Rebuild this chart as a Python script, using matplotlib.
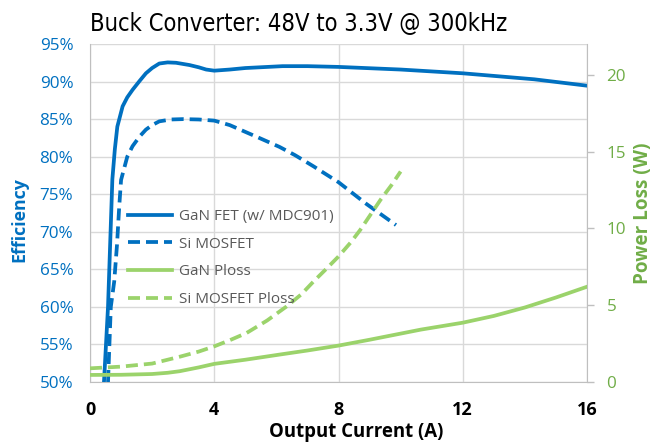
import matplotlib
matplotlib.use("Agg")
import matplotlib.pyplot as plt
from matplotlib.lines import Line2D

# ---- data ----
gan_eff_x = [0.45, 0.58, 0.72, 0.80, 0.88, 1.05, 1.2, 1.37, 1.6, 1.8, 2.0, 2.23, 2.5, 2.77, 3.2, 3.5, 3.74, 4.0, 4.5, 5.0, 6.2, 7.0, 8.0, 10.0, 12.0, 14.3, 16.0]
gan_eff_y = [50.0, 60.0, 77.0, 81.0, 84.0, 86.7, 87.9, 88.9, 90.1, 91.1, 91.8, 92.4, 92.55, 92.5, 92.2, 91.9, 91.6, 91.45, 91.6, 91.8, 92.05, 92.05, 91.95, 91.6, 91.1, 90.3, 89.45]

si_eff_x = [0.58, 0.67, 0.78, 0.87, 0.94, 1.0, 1.2, 1.37, 1.6, 1.8, 2.0, 2.23, 2.6, 3.0, 3.5, 4.0, 4.5, 5.0, 5.5, 6.1, 6.6, 7.2, 8.0, 8.9, 9.85]
si_eff_y = [50.0, 60.0, 63.4, 68.3, 73.3, 76.9, 80.0, 81.4, 82.7, 83.6, 84.2, 84.7, 84.95, 85.0, 84.95, 84.8, 84.2, 83.3, 82.4, 81.3, 80.2, 78.7, 76.6, 73.7, 70.9]

gan_ploss_x = [0.0, 1.0, 2.0, 2.5, 2.88, 3.5, 4.0, 5.0, 6.12, 7.0, 8.0, 9.0, 10.65, 12.0, 13.0, 14.0, 15.0, 16.0]
gan_ploss_y = [0.46, 0.47, 0.52, 0.6, 0.70, 0.95, 1.18, 1.45, 1.79, 2.05, 2.37, 2.75, 3.41, 3.86, 4.3, 4.85, 5.5, 6.2]

si_ploss_x = [0.0, 1.0, 2.0, 2.88, 3.5, 4.0, 4.5, 5.04, 5.7, 6.33, 6.8, 7.2, 7.6, 8.0, 8.4, 8.7, 9.0, 9.35, 9.7, 10.0]
si_ploss_y = [0.89, 1.0, 1.2, 1.64, 1.98, 2.32, 2.72, 3.19, 4.0, 4.92, 5.7, 6.55, 7.35, 8.17, 9.1, 9.9, 10.8, 11.85, 12.8, 13.7]

x_ticks = [0, 4, 8, 12, 16]
eff_ticks = [50, 55, 60, 65, 70, 75, 80, 85, 90, 95]
ploss_ticks = [0, 5, 10, 15, 20]

legend_labels = ["GaN FET (w/ MDC901)", "Si MOSFET", "GaN Ploss", "Si MOSFET Ploss"]
title = "Buck Converter: 48V to 3.3V @ 300kHz"

# ---- style ----
BLUE = "#0070C0"
GREEN = "#9BD36B"
DKGREEN = "#70AD47"
GRID = "#D9D9D9"
LW = 2.7
DASH = (0, (3.2, 1.6))
FONT = "Open Sans"

W, H = 653, 447
fig = plt.figure(figsize=(W / 100, H / 100), dpi=100)
ax = fig.add_axes([90 / W, 1 - 382 / H, 497 / W, 338 / H])
ax2 = ax.twinx()

ax.set_xlim(0, 16)
ax.set_ylim(50, 95)
ax2.set_ylim(0, 22)

for v in eff_ticks:
    ax.axhline(v, color=GRID, lw=1.0, zorder=0)
for v in x_ticks:
    ax.axvline(v, color=GRID, lw=1.0, zorder=0)

ax.plot(gan_eff_x, gan_eff_y, color=BLUE, lw=LW, zorder=3)
ax.plot(si_eff_x, si_eff_y, color=BLUE, lw=LW, ls=DASH, zorder=3)
ax2.plot(gan_ploss_x, gan_ploss_y, color=GREEN, lw=LW, zorder=3)
ax2.plot(si_ploss_x, si_ploss_y, color=GREEN, lw=LW, ls=DASH, zorder=3)

ax.set_xticks(x_ticks)
ax.set_xticklabels([str(t) for t in x_ticks], fontsize=13, fontweight="bold", family=FONT)
ax.set_yticks(eff_ticks)
ax.set_yticklabels([f"{t}%" for t in eff_ticks], fontsize=12.3, color=BLUE, family=FONT)
ax2.set_yticks(ploss_ticks)
ax2.set_yticklabels([str(t) for t in ploss_ticks], fontsize=12.3, color=DKGREEN, family=FONT)

ax.tick_params(axis="x", length=0, pad=14)
ax.tick_params(axis="y", length=0, pad=12)
ax2.tick_params(axis="y", length=5, width=1, color="#BFBFBF", pad=9, direction="out")

for a in (ax, ax2):
    for s in a.spines.values():
        s.set_visible(False)
ax.spines["left"].set_visible(True)
ax.spines["left"].set_color("#BFBFBF")
ax.spines["bottom"].set_visible(True)
ax.spines["bottom"].set_color("#BFBFBF")
ax2.spines["right"].set_visible(True)
ax2.spines["right"].set_color("#BFBFBF")

fig.text(356 / W, 1 - 432 / H, "Output Current (A)", fontsize=13.4, fontweight="bold",
         family=FONT, ha="center", va="center")
fig.text(19 / W, 1 - 220 / H, "Efficiency", fontsize=12.8, fontweight="bold", color=BLUE,
         family=FONT, ha="center", va="center", rotation=90)
fig.text(643 / W, 1 - 213 / H, "Power Loss (W)", fontsize=13.6, fontweight="bold", color=DKGREEN,
         family=FONT, ha="center", va="center", rotation=90)

fig.text(90 / W, 1 - 31 / H, title, fontsize=17, family="DejaVu Sans", stretch="condensed",
         ha="left", va="baseline")

handles = [
    Line2D([], [], color=BLUE, lw=LW),
    Line2D([], [], color=BLUE, lw=LW, ls=DASH),
    Line2D([], [], color=GREEN, lw=LW),
    Line2D([], [], color=GREEN, lw=LW, ls=DASH),
]
leg = ax2.legend(handles, legend_labels, loc="upper left",
                 bbox_to_anchor=(32 / 497, (382 - 203) / 338),
                 frameon=False, handlelength=2.9, handletextpad=0.4, labelspacing=0.83,
                 prop={"family": FONT, "size": 11}, borderaxespad=0)
for t in leg.get_texts():
    t.set_color("#595959")

fig.savefig("out.png", dpi=100)
